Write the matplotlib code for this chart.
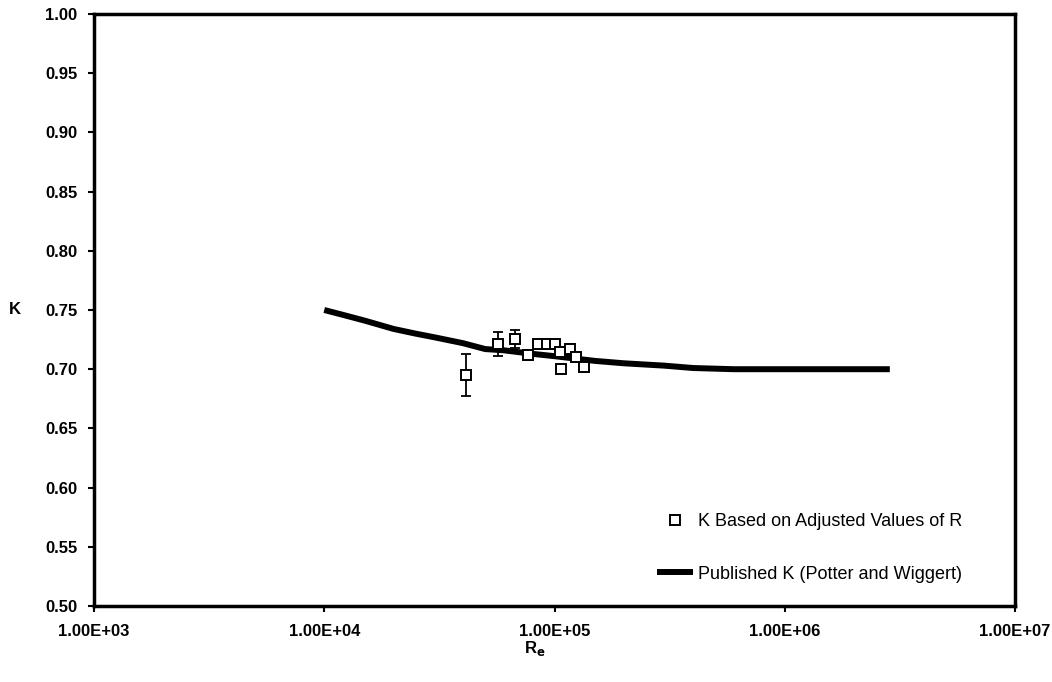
import numpy as np
import matplotlib
matplotlib.use("Agg")
import matplotlib.pyplot as plt
from matplotlib.ticker import FixedLocator, NullLocator

plt.rcParams['font.family'] = ['Liberation Sans', 'DejaVu Sans']

# measured K with error bars
re_meas = [41300, 56700, 67500, 76500, 84800, 92800, 100000,
           105700, 106700, 116800, 124000, 133700]
k_meas = [0.695, 0.721, 0.7255, 0.712, 0.721, 0.721, 0.721,
          0.7145, 0.700, 0.717, 0.710, 0.702]
k_err = [0.018, 0.010, 0.0075, 0.004, 0.004, 0.004, 0.004,
         0.004, 0.003, 0.004, 0.004, 0.003]

# published curve (Potter and Wiggert)
re_pub = [1.0e4, 1.2e4, 1.5e4, 2.0e4, 2.5e4, 3.0e4, 4.0e4, 5.0e4, 6.0e4,
          8.0e4, 1.0e5, 1.5e5, 2.0e5, 3.0e5, 4.0e5, 6.0e5, 1.0e6, 2.86e6]
k_pub = [0.750, 0.746, 0.741, 0.734, 0.730, 0.727, 0.722, 0.717, 0.716,
         0.713, 0.711, 0.707, 0.705, 0.703, 0.701, 0.700, 0.700, 0.700]

x_ticks = [1e3, 1e4, 1e5, 1e6, 1e7]
x_labels = ['1.00E+03', '1.00E+04', '1.00E+05', '1.00E+06', '1.00E+07']
y_ticks = np.arange(0.50, 1.001, 0.05)

fig = plt.figure(figsize=(10.52, 6.82), dpi=100)
ax = fig.add_axes([94 / 1052, 1 - 606 / 682, 921 / 1052, 592 / 682])

line, = ax.plot(re_pub, k_pub, color='black', lw=4.3, solid_capstyle='butt',
                zorder=2)
ax.errorbar(re_meas, k_meas, yerr=k_err, fmt='none', ecolor='black',
            elinewidth=1.3, capsize=3.5, capthick=1.3, zorder=3)
pts, = ax.plot(re_meas, k_meas, 's', ms=7.5, mfc='white', mec='black',
               mew=1.4, zorder=4)

ax.set_xscale('log')
ax.set_xlim(1e3, 1e7)
ax.set_ylim(0.5, 1.0)
ax.xaxis.set_major_locator(FixedLocator(x_ticks))
ax.xaxis.set_minor_locator(NullLocator())
ax.set_xticks(x_ticks)
ax.set_xticklabels(x_labels)
ax.set_yticks(y_ticks)
ax.set_yticklabels([f'{v:.2f}' for v in y_ticks])

for lab in ax.get_xticklabels() + ax.get_yticklabels():
    lab.set_fontweight('bold')
    lab.set_fontsize(12)

ax.tick_params(axis='both', direction='out', length=4, width=1.5)
ax.tick_params(axis='x', pad=9)
ax.tick_params(axis='y', pad=8)
for sp in ax.spines.values():
    sp.set_linewidth(2.5)

fig.text(15 / 1052, 1 - 310 / 682, 'K', fontsize=12, fontweight='bold',
         ha='center', va='center')
fig.text(535 / 1052, 1 - 649 / 682, r'R$_\mathbf{e}$', fontsize=12,
         fontweight='bold', ha='center', va='center')

ax.legend([pts, line],
          ['K Based on Adjusted Values of R',
           'Published K (Potter and Wiggert)'],
          loc='center left', bbox_to_anchor=(657 / 1052, 1 - 548 / 682),
          bbox_transform=fig.transFigure, frameon=False, fontsize=13,
          borderpad=0, borderaxespad=0, labelspacing=1.95,
          handlelength=2.0, handletextpad=0.25)

fig.savefig('out.png', dpi=100)
